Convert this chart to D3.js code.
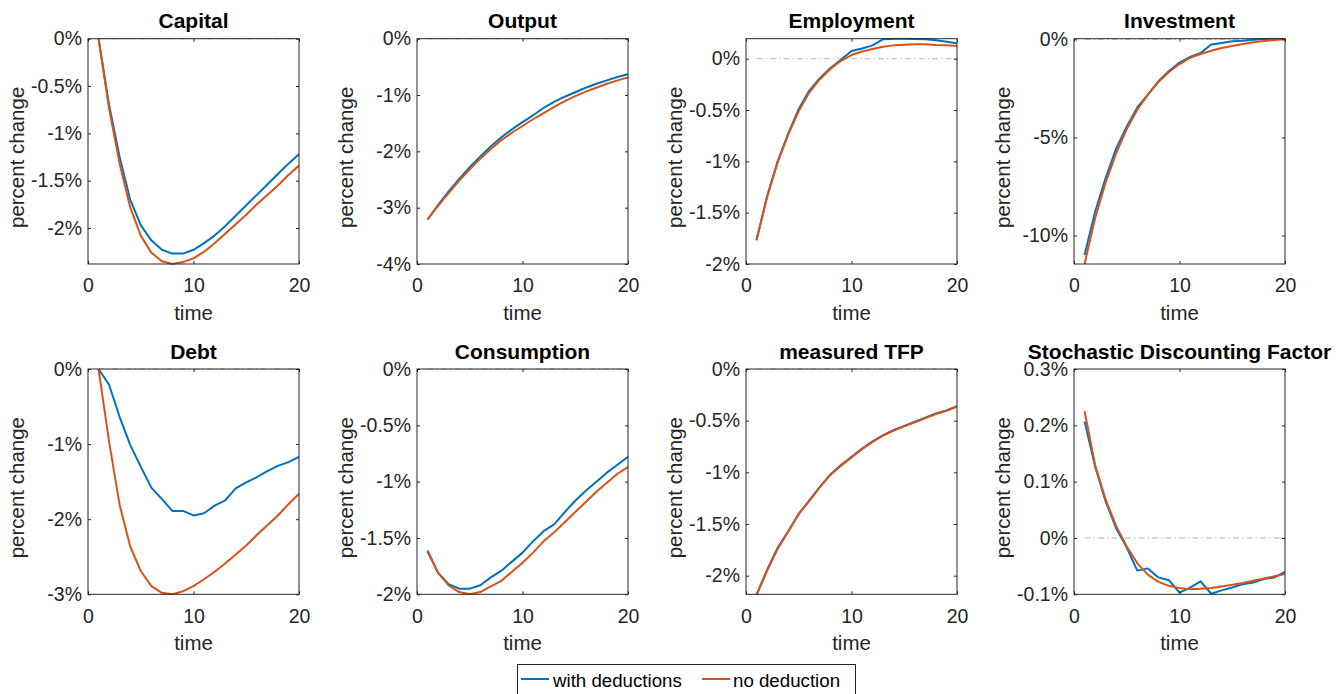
<!DOCTYPE html>
<html><head><meta charset="utf-8">
<script src="https://cdn.jsdelivr.net/npm/d3@7"></script>
<style>
body{margin:0;background:#fff}
svg{display:block;font-family:"Liberation Sans",Arial,Helvetica,sans-serif}
</style>
</head><body>
<svg id="chart" width="1344" height="694"></svg>
<script>
// ---------- data ----------
const time = [1,2,3,4,5,6,7,8,9,10,11,12,13,14,15,16,17,18,19,20];
const titles = ["Capital","Output","Employment","Investment","Debt","Consumption","measured TFP","Stochastic Discounting Factor"];
const seriesNames = ["with deductions","no deduction"];

const capitalWith = [0,-0.70,-1.25,-1.70,-1.97,-2.13,-2.23,-2.27,-2.27,-2.23,-2.16,-2.08,-1.98,-1.87,-1.76,-1.65,-1.54,-1.43,-1.32,-1.22];
const capitalNo   = [0,-0.74,-1.32,-1.78,-2.08,-2.26,-2.35,-2.38,-2.36,-2.32,-2.25,-2.16,-2.06,-1.96,-1.86,-1.75,-1.65,-1.55,-1.44,-1.34];

const outputWith = [-3.21,-2.95,-2.71,-2.49,-2.28,-2.09,-1.91,-1.75,-1.61,-1.48,-1.36,-1.23,-1.12,-1.03,-0.95,-0.87,-0.80,-0.74,-0.68,-0.63];
const outputNo   = [-3.21,-2.97,-2.74,-2.52,-2.32,-2.13,-1.96,-1.80,-1.67,-1.55,-1.43,-1.32,-1.21,-1.11,-1.02,-0.94,-0.87,-0.80,-0.74,-0.69];

const employmentWith = [-1.77,-1.34,-1.00,-0.73,-0.49,-0.31,-0.19,-0.09,-0.01,0.075,0.10,0.13,0.19,0.195,0.195,0.193,0.19,0.18,0.165,0.15];
const employmentNo   = [-1.76,-1.35,-1.01,-0.74,-0.51,-0.33,-0.20,-0.10,-0.02,0.036,0.07,0.095,0.117,0.13,0.136,0.14,0.14,0.133,0.13,0.123];

const investmentWith = [-10.99,-8.79,-7.07,-5.56,-4.44,-3.47,-2.82,-2.14,-1.62,-1.19,-0.90,-0.70,-0.27,-0.19,-0.10,-0.07,-0.02,0.02,0.03,0.02];
const investmentNo   = [-11.45,-9.12,-7.30,-5.80,-4.57,-3.59,-2.82,-2.18,-1.67,-1.26,-0.95,-0.75,-0.58,-0.44,-0.34,-0.24,-0.15,-0.09,-0.03,0];

const debtWith = [0,-0.21,-0.64,-1.01,-1.30,-1.58,-1.73,-1.89,-1.89,-1.95,-1.92,-1.82,-1.75,-1.59,-1.51,-1.44,-1.36,-1.29,-1.24,-1.17];
const debtNo   = [0,-0.97,-1.81,-2.36,-2.69,-2.89,-2.98,-3.00,-2.96,-2.89,-2.80,-2.70,-2.59,-2.47,-2.35,-2.21,-2.08,-1.95,-1.80,-1.66];

const consumptionWith = [-1.62,-1.81,-1.91,-1.95,-1.95,-1.92,-1.85,-1.79,-1.71,-1.63,-1.53,-1.44,-1.38,-1.27,-1.17,-1.08,-1.00,-0.92,-0.85,-0.78];
const consumptionNo   = [-1.61,-1.81,-1.92,-1.98,-2.00,-1.98,-1.93,-1.88,-1.80,-1.72,-1.63,-1.53,-1.45,-1.36,-1.27,-1.18,-1.09,-1.01,-0.93,-0.87];

const tfpWith = [-2.18,-1.945,-1.73,-1.57,-1.40,-1.27,-1.14,-1.02,-0.93,-0.85,-0.77,-0.70,-0.64,-0.59,-0.55,-0.51,-0.47,-0.43,-0.40,-0.36];
const tfpNo   = [-2.19,-1.95,-1.74,-1.575,-1.405,-1.275,-1.145,-1.025,-0.935,-0.855,-0.775,-0.705,-0.645,-0.595,-0.555,-0.515,-0.475,-0.435,-0.405,-0.365];

const sdfWith = [0.207,0.127,0.065,0.017,-0.017,-0.058,-0.054,-0.070,-0.075,-0.097,-0.088,-0.077,-0.099,-0.093,-0.088,-0.082,-0.079,-0.073,-0.070,-0.060];
const sdfNo   = [0.225,0.130,0.068,0.021,-0.015,-0.045,-0.065,-0.078,-0.085,-0.089,-0.091,-0.090,-0.089,-0.086,-0.083,-0.080,-0.076,-0.072,-0.068,-0.064];

const yDomains = [[-2.38,0],[-4,0],[-2,0.195],[-11.45,0.03],[-3,0],[-2,0],[-2.18,0],[-0.1,0.3]];
const yTicks = [
  [0,-0.5,-1,-1.5,-2],
  [0,-1,-2,-3,-4],
  [0,-0.5,-1,-1.5,-2],
  [0,-5,-10],
  [0,-1,-2,-3],
  [0,-0.5,-1,-1.5,-2],
  [0,-0.5,-1,-1.5,-2],
  [0.3,0.2,0.1,0,-0.1]
];
const xTicks = [0,10,20];
const xDomain = [0,20];
const xLabel = "time";
const yLabel = "percent change";

const withSeries = [capitalWith,outputWith,employmentWith,investmentWith,debtWith,consumptionWith,tfpWith,sdfWith];
const noSeries = [capitalNo,outputNo,employmentNo,investmentNo,debtNo,consumptionNo,tfpNo,sdfNo];

// ---------- layout / style ----------
const colors = ["#0072BD","#D95319"];
const axisColor = "#262626";
const lefts = [88, 417, 746, 1074];
const tops = [38.7, 369];
const W = 211, H = 225.3;

const svg = d3.select("#chart");
const fmt = d => (d === 0 ? "0" : String(d)) + "%";

titles.forEach((title, i) => {
  const col = i % 4, row = Math.floor(i / 4);
  const L = lefts[col], T = tops[row];
  const x = d3.scaleLinear().domain(xDomain).range([L, L + W]);
  const y = d3.scaleLinear().domain(yDomains[i]).range([T + H, T]);
  const g = svg.append("g");

  const clipId = "clip" + i;
  g.append("clipPath").attr("id", clipId).append("rect")
    .attr("x", L).attr("y", T - 1).attr("width", W).attr("height", H + 2);

  const plot = g.append("g").attr("clip-path", `url(#${clipId})`);

  // zero reference line
  plot.append("line")
    .attr("x1", x(time[0])).attr("x2", x(time[time.length - 1]))
    .attr("y1", y(0)).attr("y2", y(0))
    .attr("stroke", "#b8b8b8").attr("stroke-width", 1)
    .attr("stroke-dasharray", "6,3,1.5,3");

  const line = d3.line().x((d, k) => x(time[k])).y(d => y(d));
  [withSeries[i], noSeries[i]].forEach((s, si) => {
    plot.append("path").datum(s).attr("d", line)
      .attr("fill", "none").attr("stroke", colors[si])
      .attr("stroke-width", 2).attr("stroke-linejoin", "round");
  });

  // axes
  const yAxis = d3.axisLeft(y).tickValues(yTicks[i]).tickSizeInner(-3).tickSizeOuter(0).tickPadding(6).tickFormat(fmt);
  const yAxisR = d3.axisRight(y).tickValues(yTicks[i]).tickSizeInner(-3).tickSizeOuter(0).tickFormat("");
  const xAxis = d3.axisBottom(x).tickValues(xTicks).tickSizeInner(-3).tickSizeOuter(0).tickPadding(14.5).tickFormat(d3.format("d"));
  const xAxisT = d3.axisTop(x).tickValues(xTicks).tickSizeInner(-3).tickSizeOuter(0).tickFormat("");

  const styleAxis = sel => {
    sel.select(".domain").remove();
    sel.selectAll("line").attr("stroke", axisColor);
    sel.selectAll("text").attr("fill", axisColor).style("font-size", "19.5px")
      .style("font-family", '"Liberation Sans",Arial,Helvetica,sans-serif');
  };
  g.append("g").attr("transform", `translate(${L},0)`).call(yAxis).call(styleAxis);
  g.append("g").attr("transform", `translate(${L + W},0)`).call(yAxisR).call(styleAxis);
  g.append("g").attr("transform", `translate(0,${T + H})`).call(xAxis).call(styleAxis);
  g.append("g").attr("transform", `translate(0,${T})`).call(xAxisT).call(styleAxis);

  // box
  g.append("rect").attr("x", L).attr("y", T).attr("width", W).attr("height", H)
    .attr("fill", "none").attr("stroke", axisColor).attr("stroke-width", 1);

  // title
  g.append("text").attr("x", L + W / 2).attr("y", T - 10.5)
    .attr("text-anchor", "middle").attr("fill", "#000")
    .style("font-size", "21px").style("font-weight", "bold").text(title);

  // x label
  g.append("text").attr("x", L + W / 2).attr("y", T + H + 56)
    .attr("text-anchor", "middle").attr("fill", axisColor)
    .style("font-size", "20.5px").text(xLabel);

  // y label
  g.append("text")
    .attr("transform", `translate(${L - 64},${T + H / 2 + 6}) rotate(-90)`)
    .attr("text-anchor", "middle").attr("fill", axisColor)
    .style("font-size", "20.5px").text(yLabel);
});

// legend
const leg = svg.append("g");
leg.append("rect").attr("x", 517.5).attr("y", 664.5).attr("width", 338).attr("height", 40)
  .attr("fill", "#fff").attr("stroke", axisColor).attr("stroke-width", 1);
const legItems = [{x: 521, tx: 553}, {x: 702, tx: 733}];
seriesNames.forEach((name, si) => {
  leg.append("line").attr("x1", legItems[si].x).attr("x2", legItems[si].x + 28)
    .attr("y1", 679).attr("y2", 679).attr("stroke", colors[si]).attr("stroke-width", 2);
  leg.append("text").attr("x", legItems[si].tx).attr("y", 687)
    .attr("fill", "#000").style("font-size", "18.7px").text(name);
});
</script>
</body></html>
